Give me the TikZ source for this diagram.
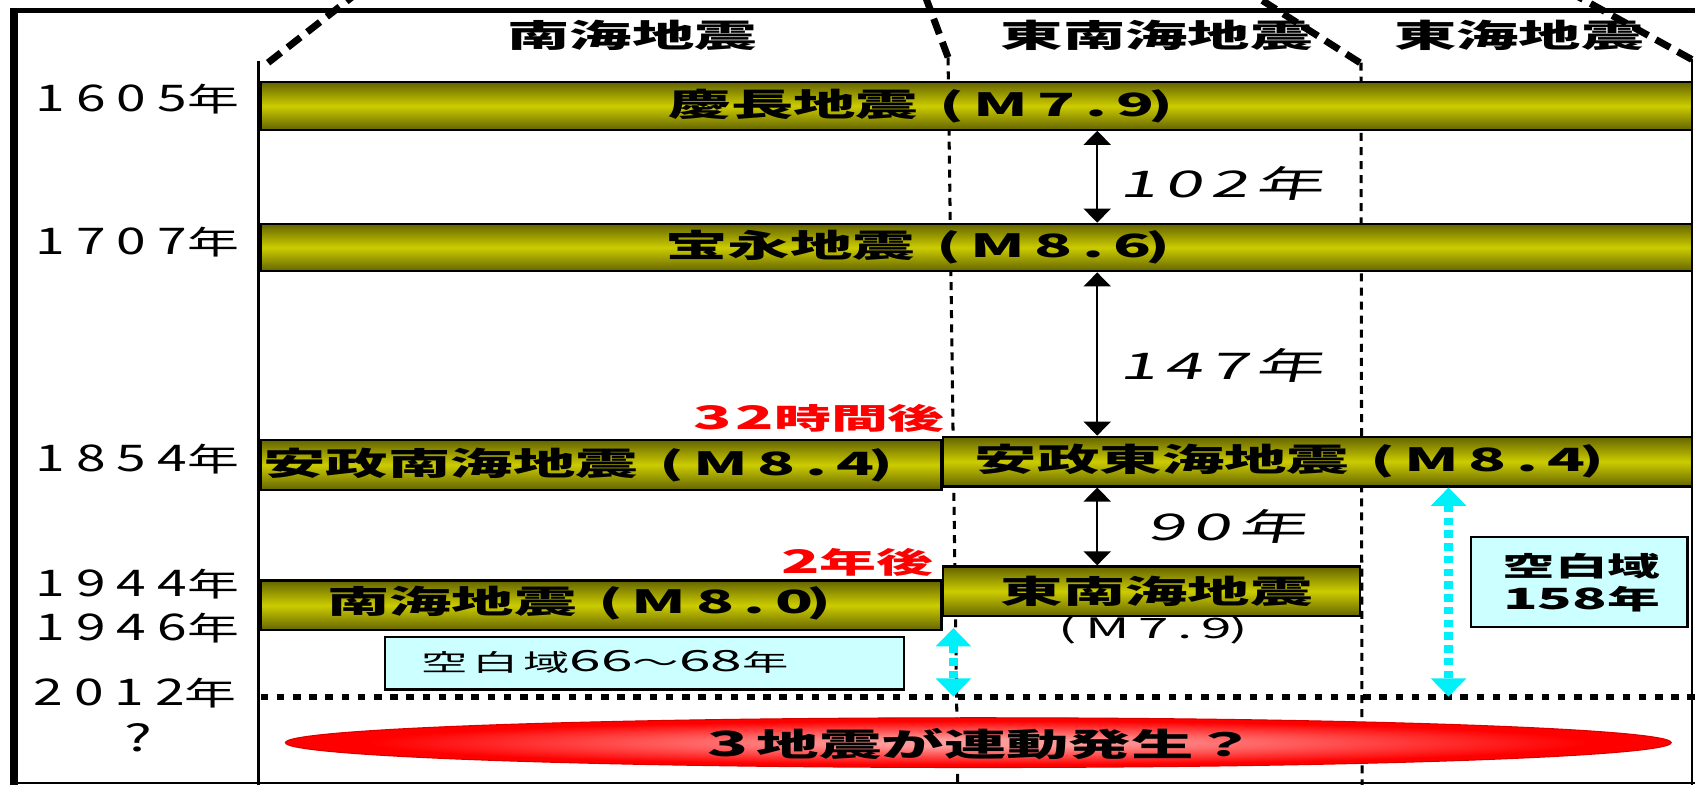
\documentclass[tikz,border=0pt]{standalone}
\usepackage{fontspec}
\usetikzlibrary{arrows.meta,shapes.geometric,fit}
\newfontfamily\jp{Noto Sans CJK JP}[FakeStretch=1.95]
\newfontfamily\jpls{Noto Sans CJK JP}[FakeStretch=1.95,LetterSpace=30]
\newfontfamily\jpw{Noto Sans CJK JP}[FakeStretch=1.95,LetterSpace=10]
\newfontfamily\jpy{Noto Sans CJK JP}[FakeStretch=1.6]
\newfontfamily\jpyd{Noto Sans CJK JP}[FakeStretch=1.45,LetterSpace=30]
\newfontfamily\jpit{Noto Sans CJK JP}[FakeStretch=1.85,FakeSlant=0.22,LetterSpace=20]
\newcommand\mgb[1]{\kern10pt(\kern4pt{\jpls #1}\kern-3pt)}
\newcommand\wdig[1]{{\jpw\fontsize{15pt}{15pt}\selectfont #1}}
\newcommand\yr[1]{{\jpyd\fontsize{17pt}{17pt}\selectfont #1}年}
\definecolor{bardark}{RGB}{100,100,0}
\definecolor{barmid}{RGB}{204,204,0}
\definecolor{boxcyan}{RGB}{204,255,255}
\definecolor{arrcyan}{RGB}{0,240,250}
\definecolor{ellpink}{RGB}{255,155,155}
\definecolor{ellred}{RGB}{255,0,0}
\pgfdeclareradialshading{redell}{\pgfpointorigin}{color(0bp)=(ellpink); color(4bp)=(ellpink); color(22bp)=(ellred); color(50bp)=(ellred)}
\begin{document}
\begin{tikzpicture}[x=0.5pt,y=-0.5pt,
  bar/.style={draw=black,line width=1pt,inner sep=0pt,top color=bardark,bottom color=bardark,middle color=barmid},
  bt/.style={inner sep=0pt,font={\jp\bfseries\fontsize{14.8pt}{16pt}\selectfont}},
  rl/.style={inner sep=0pt,text=red,font={\jp\bfseries\fontsize{13.5pt}{14pt}\selectfont}},
  yl/.style={inner sep=0pt,font={\jpy\fontsize{15pt}{15pt}\selectfont}},
  itl/.style={inner sep=0pt,font={\jpit\fontsize{17pt}{18pt}\selectfont}},
  bnd/.style={line width=3.2pt,dash pattern=on 7.5pt off 4pt},
  vd/.style={line width=1.4pt,dash pattern=on 3.7pt off 2.8pt},
  blk/.style={line width=1pt,{Triangle[width=12.5pt,length=6.5pt]}-{Triangle[width=12.5pt,length=6.5pt]}},
  cy/.style={draw=arrcyan,line width=4pt,dash pattern=on 3.5pt off 2.4pt,{Triangle[width=16pt,length=8.5pt]}-{Triangle[width=16pt,length=8.5pt]}},
  dot2012/.style={line width=2.7pt,dash pattern=on 3.5pt off 4pt},
  cbox/.style={draw=black,fill=boxcyan,line width=1.1pt,inner sep=0pt}]
\useasboundingbox (0,0) rectangle (1568,726);
\clip (0,0) rectangle (1568,726);
\fill[white] (0,0) rectangle (1568,726);
% frame
\draw[line width=4pt] (13,8) -- (13,726);
\draw[line width=2.3pt] (9,10) -- (1568,10);
\draw[line width=1pt] (13,724.5) -- (1568,724.5);
\draw[line width=1pt] (1565,55) -- (1565,726);
\draw[line width=1.7pt] (239,56) -- (239,726);
% zone boundaries
\draw[bnd] (248,58) -- (340,-14);
\draw[bnd] (877,53) -- (852,-14);
\draw[bnd] (1258,58) -- (1145,-14);
\draw[bnd] (1565,55) -- (1440,-14);
\draw[vd] (877,53) -- (886,726);
\draw[vd] (1259,58) -- (1260,726);
% headers
\node[bt] (h1) at (585,33) {南海地震};
\node[bt] (h2) at (1070,33) {東南海地震};
\node[bt] (h3) at (1405,33) {東海地震};
% year labels
\node[yl] (y1605) at (127,92) {\yr{1605}};
\node[yl] (y1707) at (127,224) {\yr{1707}};
\node[yl] (y1854) at (127,425) {\yr{1854}};
\node[yl] (y1944) at (127,540) {\yr{1944}};
\node[yl] (y1946) at (127,581) {\yr{1946}};
\node[yl] (y2012) at (125,641) {\yr{2012}};
\node[yl] (yq) at (128,682) {{\fontsize{17pt}{17pt}\selectfont ?}};
% bars
\node[bar,fit={(241,76) (1565,120)}] (b1) {};
\node[bar,fit={(241,207) (1565,251)}] (b2) {};
\node[bar,fit={(241,407) (871,453)}] (b3) {};
\node[bar,fit={(872,404) (1565,450)}] (b4) {};
\node[bar,fit={(241,537) (871,583)}] (b5) {};
\node[bar,fit={(872,524) (1258,570)}] (b6) {};
\node[bt] (t1) at (852,98) {慶長地震\mgb{M7.9}};
\node[bt] (t2) at (849,229) {宝永地震\mgb{M8.6}};
\node[bt] (t3) at (535,430) {安政南海地震\mgb{M8.4}};
\node[bt] (t4) at (1193,427) {安政東海地震\mgb{M8.4}};
\node[bt] (t5) at (536,558) {南海地震\mgb{M8.0}};
\node[bt] (t6) at (1070,547) {東南海地震};
\node[inner sep=0pt,font={\jp\fontsize{13pt}{13pt}\selectfont}] (t6b) at (1067,583) {(\kern4pt{\jpls M7.9}\kern-1pt)};
% red labels
\node[rl] (r32) at (758,387) {\wdig{32}時間後};
\node[rl] (r2) at (793,520) {\wdig{2}年後};
% interval arrows
\coordinate (ax) at (1015,0);
\draw[blk] (ax |- b1.south) -- (ax |- b2.north);
\draw[blk] (ax |- b2.south) -- (ax |- b4.north);
\draw[blk] (ax |- b4.south) -- (ax |- b6.north);
\node[itl] (l102) at (1130,170) {102年};
\node[itl] (l147) at (1130,338) {147年};
\node[itl] (l90) at (1135,487) {90年};
% 2012 line
\coordinate (la) at (241,644.5);
\coordinate (lb) at (1568,644.5);
\draw[dot2012] (la) -- (lb);
% gap boxes
\node[cbox,fit={(356,589) (836,638)}] (box1) {};
\node[inner sep=0pt,font={\jp\fontsize{11pt}{12pt}\selectfont}] (box1t) at (560,612) {空\kern2pt 白\kern2pt 域{\fontsize{13.5pt}{13.5pt}\selectfont 66}～{\fontsize{13.5pt}{13.5pt}\selectfont 68}年};
\node[cbox,fit={(1361,497) (1561,580)}] (box2) {};
\node[inner sep=0pt,align=center,font={\jp\bfseries\fontsize{12.5pt}{15.5pt}\selectfont}] (box2t) at (1463,539) {空白域\\{\fontsize{13.5pt}{15.5pt}\selectfont 158}年};
% cyan arrows
\coordinate (cs) at (882,581);
\draw[cy] (cs) -- (cs |- la);
\coordinate (cb) at (1340,0);
\draw[cy] (cb |- b4.south) -- (cb |- la);
% ellipse
\node[ellipse,minimum width=641pt,minimum height=23pt,inner sep=0pt,shading=redell,draw=red!85!black,line width=0.5pt] (ell) at (905,687) {};
\node[bt] (ellt) at (908,688) {{\fontsize{16pt}{16pt}\selectfont 3}\kern4pt 地震が連動発生？};
\end{tikzpicture}
\end{document}
